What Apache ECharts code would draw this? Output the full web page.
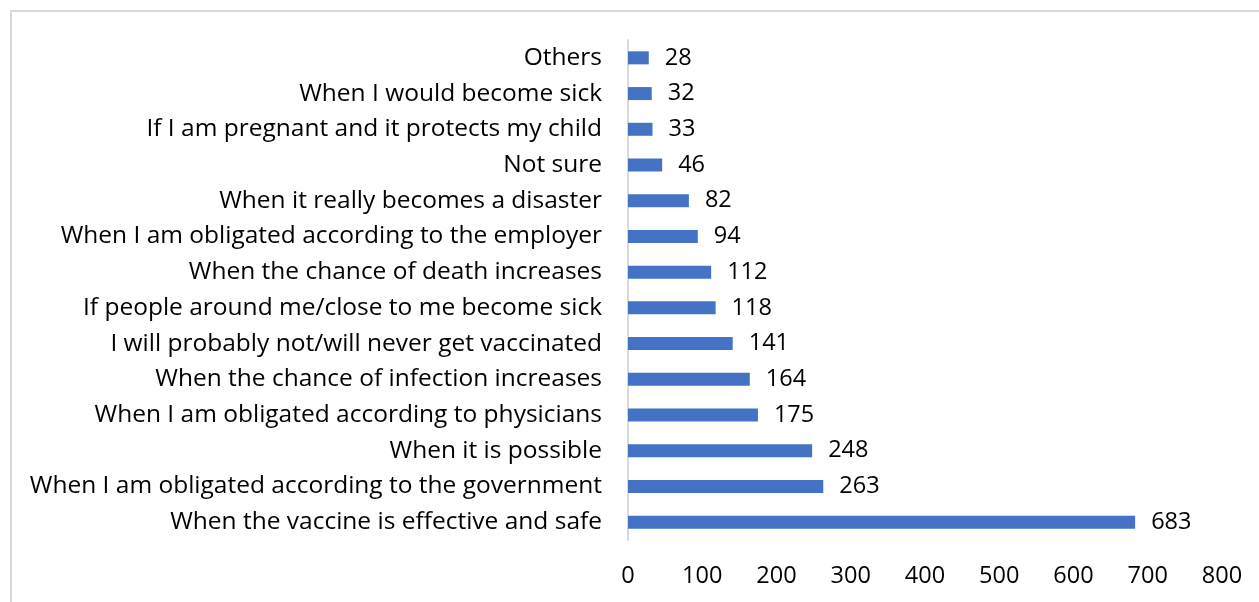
<!DOCTYPE html>
<html>
<head>
<meta charset="utf-8">
<script src="https://cdn.jsdelivr.net/npm/echarts@6/dist/echarts.min.js"></script>
<style>
    html, body { margin: 0; padding: 0; background: #fff; overflow: hidden; }
    .frame { position: absolute; left: 10px; top: 10px; width: 1260px; height: 600px; border: 2px solid #d9d9d9; box-sizing: border-box; }
    .main { position: absolute; left: 0; top: 0; width: 1259px; height: 602px; }
</style>
</head>
<body>
<div class="frame"></div>
<div class="main"></div>
<script>
// categories, bottom to top (as drawn)
const reasons = [
    'When the vaccine is effective and safe',
    'When I am obligated according to the government',
    'When it is possible',
    'When I am obligated according to physicians',
    'When the chance of infection increases',
    'I will probably not/will never get vaccinated',
    'If people around me/close to me become sick',
    'When the chance of death increases',
    'When I am obligated according to the employer',
    'When it really becomes a disaster',
    'Not sure',
    'If I am pregnant and it protects my child',
    'When I would become sick',
    'Others'
];
// number of respondents
const counts = [683, 263, 248, 175, 164, 141, 118, 112, 94, 82, 46, 33, 32, 28];
// x axis
const xMin = 0;
const xMax = 800;
const xStep = 100;

let chart = echarts.init(document.querySelector('.main'));

chart.setOption({
    animation: false,
    textStyle: { fontFamily: 'Open Sans' },
    grid: {
        left: 628,
        right: 37,
        top: 40,
        bottom: 62
    },
    xAxis: {
        type: 'value',
        min: xMin,
        max: xMax,
        interval: xStep,
        axisLine: { show: false },
        axisTick: { show: false },
        splitLine: { show: false },
        axisLabel: {
            color: '#000',
            fontSize: 23.5,
            margin: 24
        }
    },
    yAxis: {
        type: 'category',
        data: reasons,
        axisLine: { show: true, lineStyle: { color: '#d9d9d9', width: 2 } },
        axisTick: { show: false },
        axisLabel: {
            color: '#000',
            fontSize: 24.5,
            margin: 26
        }
    },
    series: [
        {
            type: 'bar',
            data: counts,
            barWidth: 13,
            itemStyle: { color: '#4472c4' },
            label: {
                show: true,
                position: 'right',
                distance: 16,
                color: '#000',
                fontSize: 23.5
            }
        }
    ]
});
</script>
</body>
</html>
